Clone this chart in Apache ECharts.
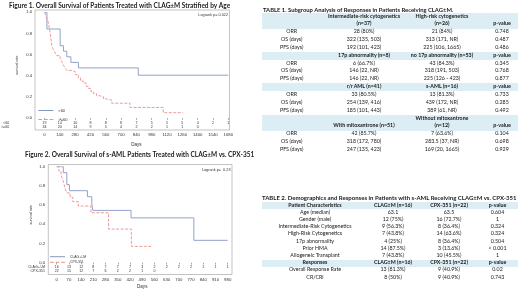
<!DOCTYPE html>
<html><head><meta charset="utf-8">
<script src="https://cdn.jsdelivr.net/npm/echarts@6/dist/echarts.min.js"></script>
<style>
html,body{margin:0;padding:0;background:#fff;}
#wrap{position:relative;width:520px;height:292px;overflow:hidden;}
#chart{position:absolute;left:0;top:0;width:520px;height:292px;}
.t{position:absolute;white-space:nowrap;font-family:Lato,'Open Sans',sans-serif;color:#1a1a1a;line-height:1;transform:translate(-50%,-50%);}
.tl{position:absolute;white-space:nowrap;font-family:Lato,'Open Sans',sans-serif;color:#1a1a1a;line-height:1;transform:translate(0,-50%);}
.band{position:absolute;background:#dcedf3;}
</style></head><body>
<div id="wrap"><div id="chart"></div><div id="tables"></div></div>
<script>
// ---------------- DATA ----------------
const fig1Title = 'Figure 1. Overall Survival of Patients Treated with CLAG\u00b1M Stratified by Age';
const fig2Title = 'Figure 2. Overall Survival of s-AML Patients Treated with CLAG\u00b1M vs. CPX-351';
const fig1Logrank = 'Logrank p= 0.022';
const fig2Logrank = 'Logrank p=  0.23';
const fig1Names = ['<60', '>=60'];
const fig2Names = ['CLAG+/-M', 'CPX-351'];
// Kaplan-Meier steps [day, survival]
const fig1Under60 = [[0,1],[22,0.842],[143,0.684],[173,0.632],[204,0.579],[241,0.526],[310,0.474],[857,0.405],[1680,0.405]];
const fig1Over60 = [[0,1],[12,0.97],[24,0.94],[36,0.90],[44,0.85],[52,0.80],[60,0.74],[67,0.68],[80,0.65],[95,0.62],[113,0.59],[143,0.56],[160,0.53],[173,0.50],[190,0.47],[204,0.45],[250,0.44],[280,0.41],[310,0.38],[330,0.35],[355,0.33],[380,0.30],[401,0.28],[425,0.25],[447,0.23],[475,0.21],[508,0.20],[540,0.18],[569,0.17],[614,0.14],[781,0.10],[1085,0.05],[1267,0.05]];
const fig2Clag = [[0,1],[38,0.9375],[58,0.8125],[73,0.75],[176,0.6875],[201,0.6125],[207,0.545],[426,0.467],[786,0.233],[980,0.233]];
const fig2Cpx = [[0,1],[12,0.955],[25,0.909],[35,0.864],[42,0.818],[48,0.773],[58,0.727],[77,0.682],[92,0.636],[124,0.59],[196,0.52],[297,0.35],[428,0.17],[547,0.17]];
// number at risk (one per x tick)
const fig1RiskUnder60 = [19,14,10,8,8,8,7,5,5,5,4,2,1];
const fig1RiskOver60 = [34,20,14,9,5,4,2,2,1,1,0];
const fig2RiskClag = [16,13,12,8,7,7,7,3,2,2,2,2,1,1,1];
const fig2RiskCpx = [22,15,12,7,6,2,2,1,0];
const fig1XMax = 1680, fig1XStep = 140;
const fig2XMax = 980, fig2XStep = 70;

// tables
const t1Title = 'TABLE 1. Subgroup Analysis of Responses in Patients Receiving CLAG\u00b1M.';
const t1Lines = [
  ['h', '', 'Intermediate-risk cytogenetics', 'High-risk cytogenetics', ''],
  ['h', '', '(n=37)', '(n=26)', 'p-value'],
  ['r', 'ORR', '28 (80%)', '21 (84%)', '0.748'],
  ['r', 'OS (days)', '322 (135, 503)', '313 (171, NR)', '0.487'],
  ['r', 'PFS (days)', '192 (101, 423)', '225 (106, 1665)', '0.486'],
  ['h', '', '17p abnormality (n=8)', 'no 17p abnormality (n=53)', 'p-value'],
  ['r', 'ORR', '6 (66.7%)', '43 (84.3%)', '0.345'],
  ['r', 'OS (days)', '146 (22, NR)', '318 (191, 503)', '0.768'],
  ['r', 'PFS (days)', '146 (22, NR)', '225 (126 - 423)', '0.877'],
  ['h', '', 'r/r AML (n=41)', 's-AML (n=16)', 'p-value'],
  ['r', 'ORR', '33 (80.5%)', '13 (81.3%)', '0.733'],
  ['r', 'OS (days)', '254 (139, 416)', '439 (172, NR)', '0.285'],
  ['r', 'PFS (days)', '185 (101, 443)', '389 (61, NR)', '0.492'],
  ['h', '', '', 'Without mitoxantrone', ''],
  ['h', '', 'With mitoxantrone (n=51)', '(n=12)', 'p-value'],
  ['r', 'ORR', '42 (85.7%)', '7 (63.6%)', '0.104'],
  ['r', 'OS (days)', '318 (172, 780)', '283.5 (37, NR)', '0.698'],
  ['r', 'PFS (days)', '247 (135, 423)', '169 (20, 1665)', '0.929']
];
const t2Title = 'TABLE 2. Demographics and Responses in Patients with s-AML Receiving CLAG\u00b1M vs. CPX-351';
const t2Lines = [
  ['h', 'Patient Characteristics', 'CLAG\u00b1M (n=16)', 'CPX-351 (n=22)', 'p-value'],
  ['r', 'Age (median)', '63.1', '63.5', '0.604'],
  ['r', 'Gender (male)', '12 (75%)', '16 (72.7%)', '1'],
  ['r', 'Intermediate-Risk Cytogenetics', '9 (56.3%)', '8 (36.4%)', '0.324'],
  ['r', 'High-Risk Cytogenetics', '7 (43.8%)', '14 (63.6%)', '0.324'],
  ['r', '17p abnormality', '4 (25%)', '8 (36.4%)', '0.504'],
  ['r', 'Prior HMA', '14 (87.5%)', '3 (13.6%)', '< 0.001'],
  ['r', 'Allogeneic Transplant', '7 (43.8%)', '10 (45.5%)', '1'],
  ['h', 'Responses', 'CLAG\u00b1M (n=16)', 'CPX-351 (n=22)', 'p-value'],
  ['r', 'Overall Response Rate', '13 (81.3%)', '9 (40.9%)', '0.02'],
  ['r', 'CR/CRi', '8 (50%)', '9 (40.9%)', '0.743']
];

// ---------------- LAYOUT ----------------
const W = 520, H = 292;
const F1 = {boxL:35, boxT:10, boxR:229.5, boxB:130, gL:44.3, gR:228.3, gT:12.3, gB:118, risk:[123.3,127.3], rowLabR:9, daysY:145, ylabX:17, ylabR:32, titleX:9, titleY:6, legL:38.3, legY:108.5, legH:1, legGap:5};
const F2 = {boxL:48.3, boxT:164.5, boxR:232, boxB:274.5, gL:56.7, gR:227.7, gT:166.7, gB:262.7, risk:[266.7,271.3], rowLabR:45, daysY:286.7, ylabX:31, ylabR:45, titleX:25, titleY:155.7, legL:50, legY:255.2, legH:1, legGap:2.6};
const blue = '#8797c4', red = '#e8918f', axisCol = '#555', boxCol = '#9a9a9a';
const sansAx = "'Liberation Sans', Arial, sans-serif";
const dashIcon = 'path://M0,0h3.6v1h-3.6z M5.4,0h3.6v1h-3.6z M10.8,0h3.6v1h-3.6z';

function gridOf(F){return {left:F.gL, top:F.gT, width:F.gR-F.gL, height:F.gB-F.gT, containLabel:false};}

function xAxes(F, gi, max, step, riskA, riskB, names){
  const base = {gridIndex:gi, type:'value', position:'bottom', min:0, max:max, interval:step, splitLine:{show:false}, axisLine:{show:false}};
  const fmt = arr => v => { const i = Math.round(v/step); return (i < arr.length) ? String(arr[i]) : ''; };
  return [
    Object.assign({}, base, {offset:F.boxB-F.gB, axisTick:{show:true, length:1.8, lineStyle:{color:axisCol, width:0.5}},
      axisLabel:{fontSize:4.3, margin:3.2, color:'#333', fontFamily:sansAx, formatter:v=>String(v)},
      name:'Days', nameLocation:'middle', nameGap:F.daysY-F.boxB-2.3, nameTextStyle:{fontSize:4.6, color:'#333', fontFamily:sansAx}}),
    Object.assign({}, base, {offset:F.risk[0]-F.gB, axisTick:{show:false},
      axisLabel:{fontSize:3.6, margin:0, verticalAlign:'middle', color:'#333', fontFamily:sansAx, formatter:fmt(riskA)},
      name:names[0], nameLocation:'start', nameGap:F.gL-F.rowLabR, nameTextStyle:{fontSize:3.6, color:'#333', fontFamily:sansAx, align:'right', verticalAlign:'middle'}}),
    Object.assign({}, base, {offset:F.risk[1]-F.gB, axisTick:{show:false},
      axisLabel:{fontSize:3.6, margin:0, verticalAlign:'middle', color:'#333', fontFamily:sansAx, formatter:fmt(riskB)},
      name:names[1], nameLocation:'start', nameGap:F.gL-F.rowLabR, nameTextStyle:{fontSize:3.6, color:'#333', fontFamily:sansAx, align:'right', verticalAlign:'middle'}})
  ];
}
function yAxisOf(F, gi){
  return {gridIndex:gi, type:'value', position:'left', min:0, max:1, interval:0.2, splitLine:{show:false}, axisLine:{show:false},
    axisTick:{show:false},
    axisLabel:{show:true, fontSize:4.2, margin:F.gL-F.ylabR, color:'#333', fontFamily:sansAx, formatter:v=>v.toFixed(1)},
    name:'survival rate', nameLocation:'middle', nameRotate:90, nameGap:F.gL-F.ylabX-1.8, nameTextStyle:{fontSize:3.6, color:'#333', fontFamily:sansAx}};
}
function km(name, data, gi, color, dashed){
  return {name:name, type:'line', step:'end', xAxisIndex:gi*3, yAxisIndex:gi, data:data, symbol:'none', silent:true, animation:false,
    lineStyle:{color:color, width:0.9, type: dashed ? [3,1.5] : 'solid'}, itemStyle:{color:color}};
}
function box(F){
  return {type:'rect', shape:{x:F.boxL, y:F.boxT, width:F.boxR-F.boxL, height:F.boxB-F.boxT}, style:{fill:'none', stroke:boxCol, lineWidth:0.6}, silent:true};
}
function titleOf(text, x, y){
  return {text:text, left:x, top:y-3.8, padding:0, textStyle:{fontSize:6.5, fontWeight:'bold', fontFamily:'Lato, sans-serif', color:'#222'}};
}
function logrankOf(text, F){
  return {text:text, right:W-F.boxR+1.5, top:F.boxT+3, padding:0, textStyle:{fontSize:3.8, fontWeight:'normal', fontFamily:sansAx, color:'#333'}};
}
function legendOf(F, names, fs){
  return {data:[{name:names[0], icon:'rect'}, {name:names[1], icon:dashIcon}], orient:'vertical', left:F.legL, top:F.legY, padding:0,
    itemWidth:15, itemHeight:F.legH, itemGap:F.legGap, symbolKeepAspect:false,
    textStyle:{fontSize:fs, color:'#333', fontFamily:sansAx}, selectedMode:false};
}

const chart = echarts.init(document.getElementById('chart'), null, {renderer:'canvas'});
chart.setOption({
  animation:false,
  title:[titleOf(fig1Title, F1.titleX, F1.titleY), titleOf(fig2Title, F2.titleX, F2.titleY), logrankOf(fig1Logrank, F1), logrankOf(fig2Logrank, F2)],
  grid:[gridOf(F1), gridOf(F2)],
  xAxis:[].concat(xAxes(F1, 0, fig1XMax, fig1XStep, fig1RiskUnder60, fig1RiskOver60, fig1Names),
                  xAxes(F2, 1, fig2XMax, fig2XStep, fig2RiskClag, fig2RiskCpx, fig2Names)),
  yAxis:[yAxisOf(F1, 0), yAxisOf(F2, 1)],
  legend:[legendOf(F1, fig1Names, 4), legendOf(F2, fig2Names, 3.4)],
  graphic:[box(F1), box(F2)],
  series:[
    km(fig1Names[0], fig1Under60, 0, blue, false),
    km(fig1Names[1], fig1Over60, 0, red, true),
    km(fig2Names[0], fig2Clag, 1, blue, false),
    km(fig2Names[1], fig2Cpx, 1, red, true)
  ]
});

// ---------------- TABLES ----------------
const T1 = {titleX:263, titleY:10, y0:16.5, pitch:7.85, cols:[291.7, 364, 442, 502], bandL:262, bandR:518, fs:5.3, tfs:5.85};
const T2 = {titleX:262, titleY:197.5, y0:205.5, pitch:7.2, cols:[315, 393, 449, 497.5], bandL:262, bandR:518, fs:5.3, tfs:6.0};
const host = document.getElementById('tables');
function el(cls, txt, x, y, fs, bold){
  const d = document.createElement('div'); d.className = cls; d.textContent = txt;
  d.style.left = x+'px'; d.style.top = y+'px'; d.style.fontSize = fs+'px'; if (bold) d.style.fontWeight = '700';
  host.appendChild(d); return d;
}
function drawTable(T, title, lines){
  el('tl', title, T.titleX, T.titleY, T.tfs, true);
  lines.forEach((ln, i) => {
    const y = T.y0 + i*T.pitch;
    if (ln[0] === 'h'){
      const b = document.createElement('div'); b.className='band';
      b.style.left = T.bandL+'px'; b.style.width = (T.bandR-T.bandL)+'px';
      b.style.top = (y - T.pitch/2)+'px'; b.style.height = (T.pitch+0.3)+'px';
      host.insertBefore(b, host.firstChild);
    }
  });
  lines.forEach((ln, i) => {
    const y = T.y0 + i*T.pitch;
    for (let c=1;c<=4;c++){ if (ln[c]) el('t', ln[c], T.cols[c-1], y, T.fs, ln[0]==='h'); }
  });
}
drawTable(T1, t1Title, t1Lines);
drawTable(T2, t2Title, t2Lines);
</script></body></html>
